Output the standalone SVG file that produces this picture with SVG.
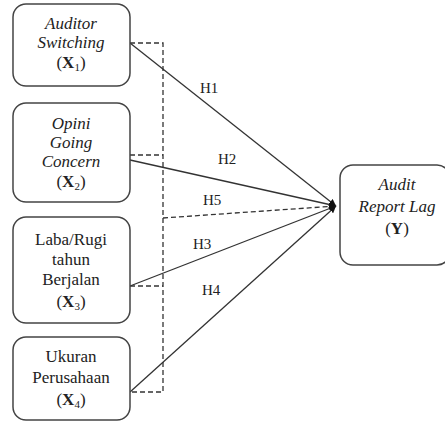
<svg xmlns="http://www.w3.org/2000/svg" width="445" height="421" viewBox="0 0 445 421">
<defs>
<marker id="arr" viewBox="0 0 10 10" refX="10" refY="5" markerWidth="7" markerHeight="7" markerUnits="userSpaceOnUse" orient="auto">
<path d="M0,0 L10,5 L0,10 z" fill="#111"/>
</marker>
</defs>
<g id="connectors" stroke="#333" stroke-width="1.3" fill="none">
<path stroke-dasharray="5,3" d="M130,43 H163 V392 H130"/>
<path stroke-dasharray="5,3" d="M130,155 H163"/>
<path stroke-dasharray="5,3" d="M130,286 H163"/>
<line x1="130" y1="43" x2="336" y2="206" marker-end="url(#arr)"/>
<line x1="130" y1="160" x2="336" y2="206" marker-end="url(#arr)"/>
<line stroke-dasharray="5,3" x1="163" y1="218" x2="336" y2="206" marker-end="url(#arr)"/>
<line x1="130" y1="286" x2="336" y2="206" marker-end="url(#arr)"/>
<line x1="130" y1="392" x2="336" y2="206" marker-end="url(#arr)"/>
</g>
<g id="labels" fill="#222" stroke="none">
<text font-family="Liberation Serif" font-size="15" x="200" y="93">H1</text>
<text font-family="Liberation Serif" font-size="15" x="218" y="164">H2</text>
<text font-family="Liberation Serif" font-size="15" x="203" y="205">H5</text>
<text font-family="Liberation Serif" font-size="15" x="193" y="249">H3</text>
<text font-family="Liberation Serif" font-size="15" x="202" y="295">H4</text>
</g>
<g id="x1">
<rect fill="#fff" stroke="#444" stroke-width="1.5" x="13" y="4" width="117" height="82" rx="13"/>
<text font-family="Liberation Serif" font-size="17" font-style="italic" fill="#222" text-anchor="middle" x="71" y="29">Auditor</text>
<text font-family="Liberation Serif" font-size="17" font-style="italic" fill="#222" text-anchor="middle" x="71" y="48">Switching</text>
<text font-family="Liberation Serif" font-size="17" fill="#222" text-anchor="middle" x="71" y="68">(<tspan font-weight="bold">X</tspan><tspan font-size="11" dy="3">1</tspan><tspan dy="-3">)</tspan></text>
</g>
<g id="x2">
<rect fill="#fff" stroke="#444" stroke-width="1.5" x="13" y="103" width="117" height="99" rx="13"/>
<text font-family="Liberation Serif" font-size="17" font-style="italic" fill="#222" text-anchor="middle" x="71" y="129">Opini</text>
<text font-family="Liberation Serif" font-size="17" font-style="italic" fill="#222" text-anchor="middle" x="71" y="148">Going</text>
<text font-family="Liberation Serif" font-size="17" font-style="italic" fill="#222" text-anchor="middle" x="71" y="167">Concern</text>
<text font-family="Liberation Serif" font-size="17" fill="#222" text-anchor="middle" x="71" y="187">(<tspan font-weight="bold">X</tspan><tspan font-size="11" dy="3">2</tspan><tspan dy="-3">)</tspan></text>
</g>
<g id="x3">
<rect fill="#fff" stroke="#444" stroke-width="1.5" x="13" y="217" width="117" height="106" rx="13"/>
<text font-family="Liberation Serif" font-size="17" fill="#222" text-anchor="middle" x="71" y="245">Laba/Rugi</text>
<text font-family="Liberation Serif" font-size="17" fill="#222" text-anchor="middle" x="71" y="265">tahun</text>
<text font-family="Liberation Serif" font-size="17" fill="#222" text-anchor="middle" x="71" y="285">Berjalan</text>
<text font-family="Liberation Serif" font-size="17" fill="#222" text-anchor="middle" x="71" y="307">(<tspan font-weight="bold">X</tspan><tspan font-size="11" dy="3">3</tspan><tspan dy="-3">)</tspan></text>
</g>
<g id="x4">
<rect fill="#fff" stroke="#444" stroke-width="1.5" x="13" y="337" width="117" height="83" rx="13"/>
<text font-family="Liberation Serif" font-size="17" fill="#222" text-anchor="middle" x="71" y="362">Ukuran</text>
<text font-family="Liberation Serif" font-size="17" fill="#222" text-anchor="middle" x="71" y="383">Perusahaan</text>
<text font-family="Liberation Serif" font-size="17" fill="#222" text-anchor="middle" x="71" y="405">(<tspan font-weight="bold">X</tspan><tspan font-size="11" dy="3">4</tspan><tspan dy="-3">)</tspan></text>
</g>
<g id="y">
<rect fill="#fff" stroke="#444" stroke-width="1.5" x="340" y="165" width="110" height="100" rx="13"/>
<text font-family="Liberation Serif" font-size="17" font-style="italic" fill="#222" text-anchor="middle" x="397" y="190">Audit</text>
<text font-family="Liberation Serif" font-size="17" font-style="italic" fill="#222" text-anchor="middle" x="397" y="212">Report Lag</text>
<text font-family="Liberation Serif" font-size="17" fill="#222" text-anchor="middle" x="397" y="234">(<tspan font-weight="bold">Y</tspan>)</text>
</g>
</svg>
